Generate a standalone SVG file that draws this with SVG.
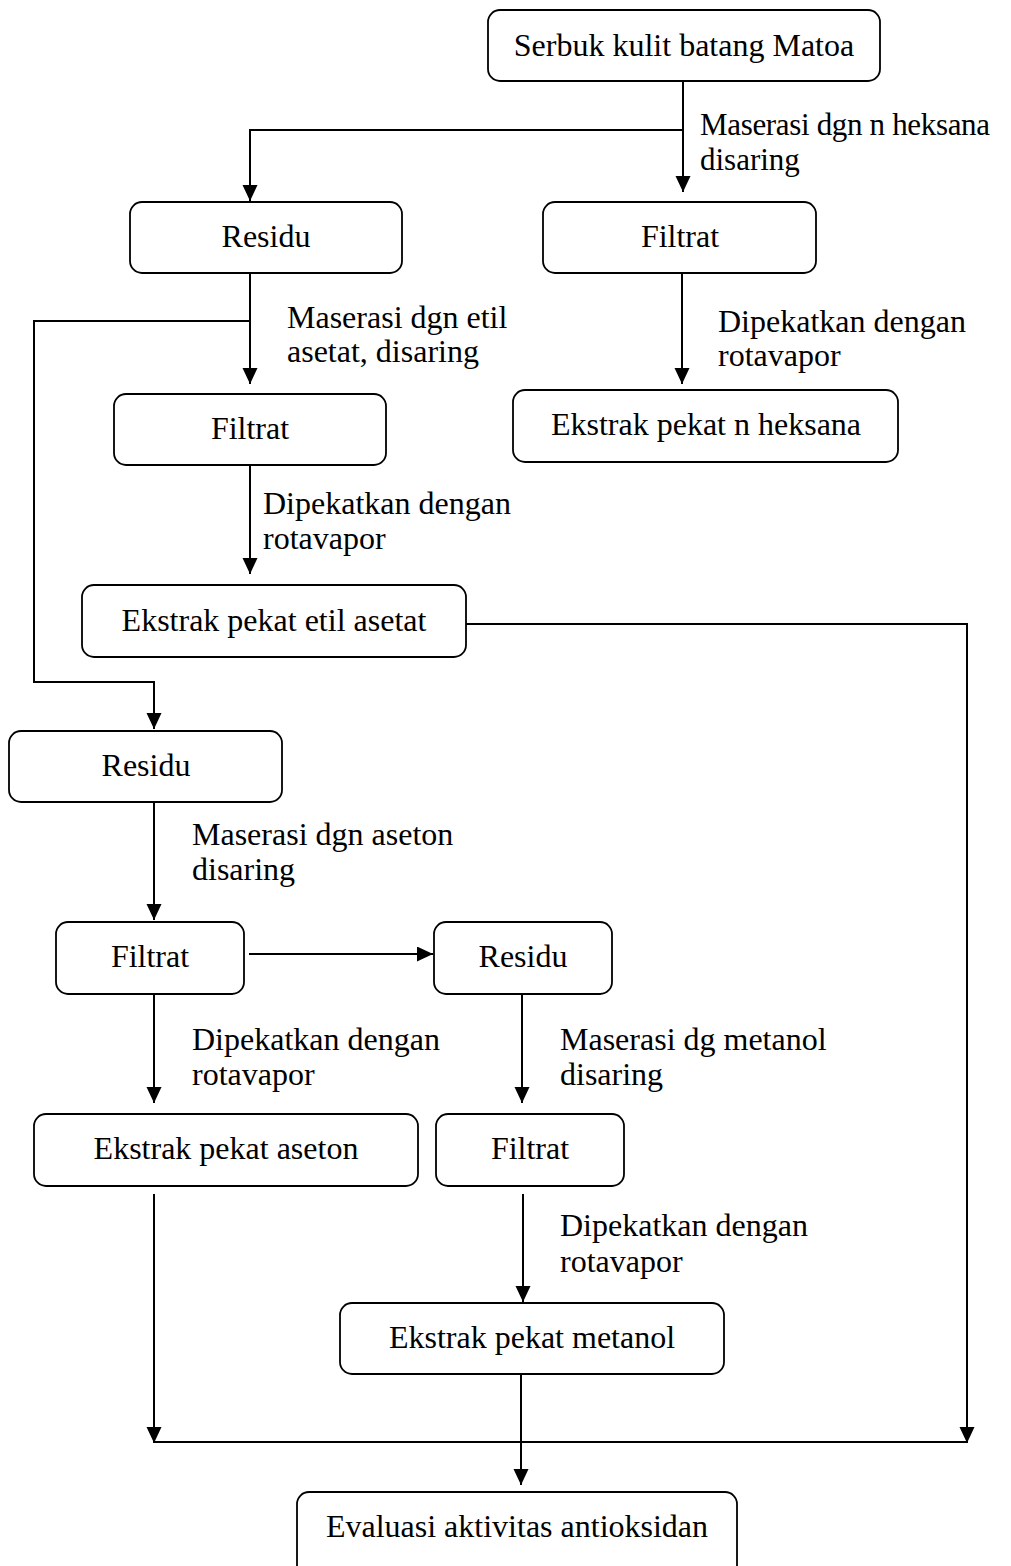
<svg xmlns="http://www.w3.org/2000/svg" width="1011" height="1566" viewBox="0 0 1011 1566">
<style>
.box{fill:#fff;stroke:#000;stroke-width:1.8}
.t{font-family:"Liberation Serif","Times New Roman",serif;font-size:32px;fill:#000}
.s{font-size:31px}
.c{text-anchor:middle}
.ln{fill:none;stroke:#000;stroke-width:2}
</style>
<defs>
<marker id="ah" markerUnits="userSpaceOnUse" markerWidth="17" markerHeight="16" refX="16" refY="7.5" orient="auto">
<path d="M0,0 L16,7.5 L0,15 z" fill="#000"/>
</marker>
</defs>
<rect width="1011" height="1566" fill="#fff"/>
<g id="connectors">
<path class="ln" d="M683,81 V192" marker-end="url(#ah)"/>
<path class="ln" d="M683,130 H250 V201" marker-end="url(#ah)"/>
<path class="ln" d="M250,273 V384" marker-end="url(#ah)"/>
<path class="ln" d="M250,321 H34 V682 H154 V729" marker-end="url(#ah)"/>
<path class="ln" d="M682,273 V384" marker-end="url(#ah)"/>
<path class="ln" d="M250,465 V574" marker-end="url(#ah)"/>
<path class="ln" d="M466,624 H967 V1443" marker-end="url(#ah)"/>
<path class="ln" d="M154,802 V920" marker-end="url(#ah)"/>
<path class="ln" d="M249,954 H433" marker-end="url(#ah)"/>
<path class="ln" d="M154,994 V1103" marker-end="url(#ah)"/>
<path class="ln" d="M522,994 V1103" marker-end="url(#ah)"/>
<path class="ln" d="M154,1194 V1443" marker-end="url(#ah)"/>
<path class="ln" d="M523,1194 V1302" marker-end="url(#ah)"/>
<path class="ln" d="M521,1374 V1485" marker-end="url(#ah)"/>
<path class="ln" d="M154,1442 H967"/>
</g>
<g id="labels">
<text class="t s" x="700" y="135" textLength="290">Maserasi dgn n heksana</text>
<text class="t s" x="700" y="170">disaring</text>
<text class="t" x="287" y="328">Maserasi dgn etil</text>
<text class="t" x="287" y="362">asetat, disaring</text>
<text class="t" x="718" y="332">Dipekatkan dengan</text>
<text class="t" x="718" y="366">rotavapor</text>
<text class="t" x="263" y="514">Dipekatkan dengan</text>
<text class="t" x="263" y="549">rotavapor</text>
<text class="t" x="192" y="845">Maserasi dgn aseton</text>
<text class="t" x="192" y="880">disaring</text>
<text class="t" x="192" y="1050">Dipekatkan dengan</text>
<text class="t" x="192" y="1085">rotavapor</text>
<text class="t" x="560" y="1050">Maserasi dg metanol</text>
<text class="t" x="560" y="1085">disaring</text>
<text class="t" x="560" y="1236">Dipekatkan dengan</text>
<text class="t" x="560" y="1272">rotavapor</text>
</g>
<g id="n1"><rect class="box" x="488" y="10" width="392" height="71" rx="12"/><text class="t c" x="684" y="56">Serbuk kulit batang Matoa</text></g>
<g id="n2"><rect class="box" x="130" y="202" width="272" height="71" rx="12"/><text class="t c" x="266" y="247">Residu</text></g>
<g id="n3"><rect class="box" x="543" y="202" width="273" height="71" rx="12"/><text class="t c" x="680" y="247">Filtrat</text></g>
<g id="n4"><rect class="box" x="114" y="394" width="272" height="71" rx="12"/><text class="t c" x="250" y="439">Filtrat</text></g>
<g id="n5"><rect class="box" x="513" y="390" width="385" height="72" rx="12"/><text class="t c" x="706" y="435">Ekstrak pekat n heksana</text></g>
<g id="n6"><rect class="box" x="82" y="585" width="384" height="72" rx="12"/><text class="t c" x="274" y="631">Ekstrak pekat etil asetat</text></g>
<g id="n7"><rect class="box" x="9" y="731" width="273" height="71" rx="12"/><text class="t c" x="146" y="776">Residu</text></g>
<g id="n8"><rect class="box" x="56" y="922" width="188" height="72" rx="12"/><text class="t c" x="150" y="967">Filtrat</text></g>
<g id="n9"><rect class="box" x="434" y="922" width="178" height="72" rx="12"/><text class="t c" x="523" y="967">Residu</text></g>
<g id="n10"><rect class="box" x="34" y="1114" width="384" height="72" rx="12"/><text class="t c" x="226" y="1159">Ekstrak pekat aseton</text></g>
<g id="n11"><rect class="box" x="436" y="1114" width="188" height="72" rx="12"/><text class="t c" x="530" y="1159">Filtrat</text></g>
<g id="n12"><rect class="box" x="340" y="1303" width="384" height="71" rx="12"/><text class="t c" x="532" y="1348">Ekstrak pekat metanol</text></g>
<g id="n13"><rect class="box" x="297" y="1492" width="440" height="90" rx="12"/><text class="t c" x="517" y="1537">Evaluasi aktivitas antioksidan</text></g>
</svg>
